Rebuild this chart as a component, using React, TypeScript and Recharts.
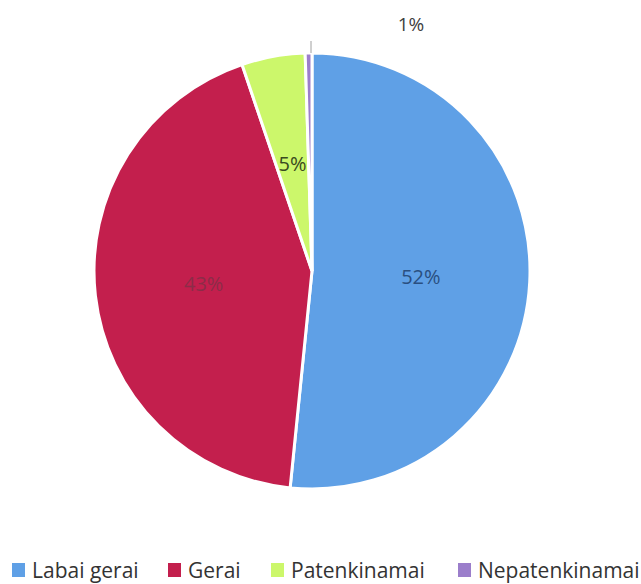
import React from "react";
import { PieChart, Pie, Cell } from "recharts";

const categories = ["Labai gerai", "Gerai", "Patenkinamai", "Nepatenkinamai"];
const values = [51.6, 43.2, 4.7, 0.5];
const percentLabels = ["52%", "43%", "5%", "1%"];
const colors = ["#5fa0e6", "#c31f4d", "#ccf76b", "#9b7ecb"];
const labelColors = ["#2a4f80", "#8c2c48", "#3a4a20", "#404040"];
const legendLefts = [12, 168, 271, 458];

const data = categories.map((name, i) => ({ name, value: values[i] }));

const FONT = "'Open Sans', 'Noto Sans', sans-serif";

const renderLabel = (props: any) => {
  const { cx, cy, midAngle, outerRadius, index } = props;
  const RAD = Math.PI / 180;
  if (index === 3) {
    const topY = cy - outerRadius;
    return (
      <g>
        <line x1={cx - 1} y1={topY} x2={cx - 1} y2={topY - 12} stroke="#a0a0a0" strokeWidth={1} />
        <text x={cx + 99} y={cy - 247} fill={labelColors[index]} fontSize={19} fontFamily={FONT} textAnchor="middle" dominantBaseline="central">
          {percentLabels[index]}
        </text>
      </g>
    );
  }
  const r = outerRadius * 0.5;
  const x = cx + r * Math.cos(-midAngle * RAD);
  const y = cy + r * Math.sin(-midAngle * RAD);
  return (
    <text x={x} y={y} fill={labelColors[index]} fontSize={20} fontFamily={FONT} textAnchor="middle" dominantBaseline="central">
      {percentLabels[index]}
    </text>
  );
};

const Legend = () => (
  <div style={{ position: "absolute", left: 0, top: 556, width: 641, height: 28, fontFamily: FONT, fontSize: 21, color: "#333", whiteSpace: "nowrap" }}>
    {categories.map((c, i) => (
      <div key={c} style={{ position: "absolute", left: legendLefts[i], top: 0, display: "flex", alignItems: "center" }}>
        <span style={{ display: "inline-block", width: 13, height: 14, background: colors[i], marginRight: 7 }} />
        <span>{c}</span>
      </div>
    ))}
  </div>
);

export default function App() {
  return (
    <div style={{ position: "absolute", left: 0, top: 0, width: 641, height: 584, background: "#fff", overflow: "hidden" }}>
      <PieChart width={641} height={584}>
        <Pie
          data={data}
          dataKey="value"
          nameKey="name"
          cx={307}
          cy={266}
          outerRadius={218}
          startAngle={90}
          endAngle={-270}
          stroke="#fff"
          strokeWidth={3}
          label={renderLabel}
          labelLine={false}
          isAnimationActive={false}
        >
          {data.map((d, i) => (
            <Cell key={d.name} fill={colors[i]} />
          ))}
        </Pie>
      </PieChart>
      <Legend />
    </div>
  );
}
